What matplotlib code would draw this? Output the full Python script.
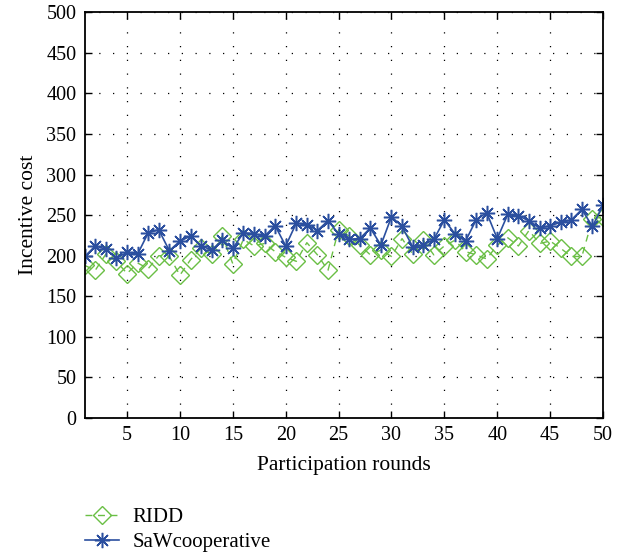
import numpy as np
import matplotlib
matplotlib.use('Agg')
import matplotlib.pyplot as plt

plt.rcParams['font.family'] = ['Liberation Serif', 'DejaVu Serif']

rounds = list(range(1, 51))

ridd = [188, 182, 202, 193, 178, 191, 184, 200, 199, 176,
        195, 209, 202, 224, 190, 220, 212, 215, 205, 198,
        193, 216, 201, 182, 232, 224, 213, 201, 207, 199,
        221, 202, 219, 201, 212, 219, 205, 201, 196, 213,
        222, 212, 231, 215, 218, 209, 199, 199, 245, 248]
saw = [199, 212, 208, 197, 204, 202, 228, 232, 206, 218,
       224, 212, 207, 219, 209, 228, 227, 224, 237, 212,
       240, 238, 231, 243, 227, 220, 221, 234, 213, 248,
       236, 211, 213, 220, 244, 227, 218, 244, 253, 221,
       251, 249, 243, 234, 237, 241, 244, 257, 236, 262]

green = '#6abf45'
blue = '#2b4f9f'

fig = plt.figure(figsize=(6.29, 5.54), dpi=100)
ax = fig.add_axes([0.1347, 0.2455, 0.8240, 0.7325])

ax.plot(rounds, ridd, color=green, linestyle='--', dashes=(5, 4), linewidth=1.0,
        marker='D', markersize=9, markerfacecolor='none', markeredgecolor=green,
        markeredgewidth=1.0, label='RIDD')
ax.plot(rounds, saw, color=blue, linestyle='-', linewidth=1.2,
        marker=(8, 2, 0), markersize=11, markeredgecolor=blue, markeredgewidth=1.1,
        label='SaWcooperative')

ax.set_xlim(1, 50)
ax.set_ylim(0, 500)
ax.set_xticks(range(5, 51, 5))
ax.set_yticks(range(0, 501, 50))
ax.tick_params(direction='in', length=5, width=1, labelsize=14.5,
               top=True, right=True, pad=6)
for s in ax.spines.values():
    s.set_linewidth(1.3)
ax.grid(True, color='black', linestyle=(0, (1, 10)), linewidth=0.9)

ax.set_xlabel('Participation rounds', fontsize=15.5, labelpad=8)
ax.set_ylabel('Incentive cost', fontsize=15.5, labelpad=6)

fig.legend(loc='upper left', bbox_to_anchor=(0.118, 0.102), frameon=False,
           fontsize=15, handlelength=1.65, labelspacing=0.25, borderpad=0,
           handletextpad=0.65)

fig.savefig('out.png', dpi=100)
